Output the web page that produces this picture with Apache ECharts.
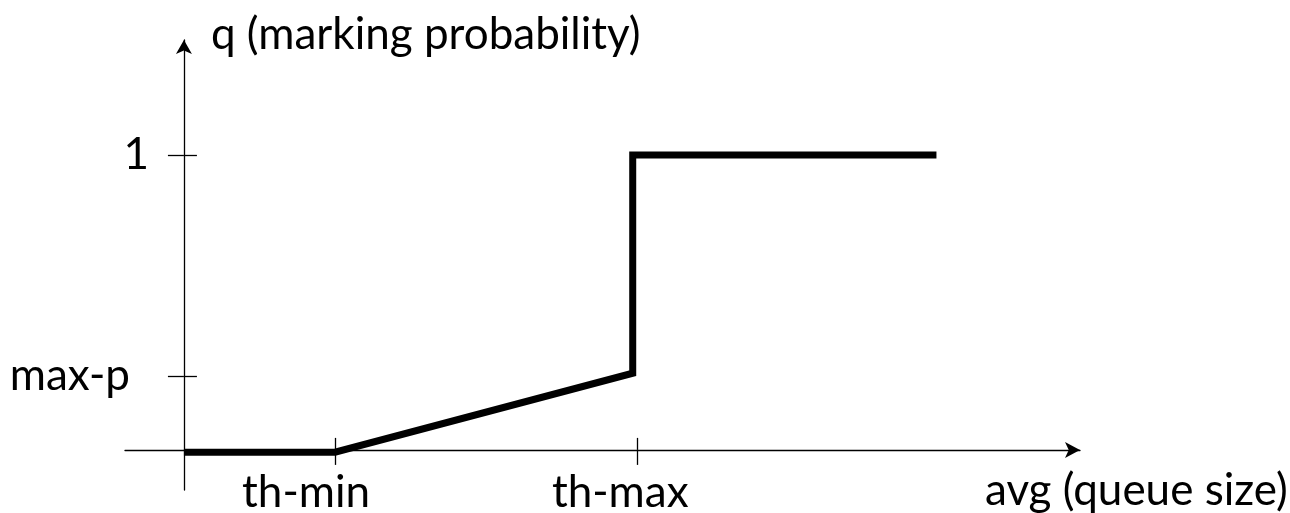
<!DOCTYPE html>
<html>
<head>
<meta charset="utf-8">
<script src="https://cdn.jsdelivr.net/npm/echarts@6/dist/echarts.min.js"></script>
<style>
  html, body { margin: 0; padding: 0; background: #ffffff; }
  #chart { width: 1290px; height: 513px; }
</style>
</head>
<body>
<div id="chart"></div>
<script>
// ---- data ----
const xTickValues = [1, 3];
const xTickLabels = ['th-min', 'th-max'];
const yTickValues = [0.25, 1];
const yTickLabels = ['max-p', '1'];
const curveX = [0, 1, 2.97, 2.97, 4.98];
const curveY = [-0.008, -0.008, 0.26, 1, 1];
const xName = 'avg (queue size)';
const yName = 'q (marking probability)';

const FONT = 'Lato';
const FS = 44;
const X_MIN = -0.39, X_MAX = 5.93;
const Y_MIN = -0.136, Y_MAX = 1.39;

const curve = curveX.map((x, i) => [x, curveY[i]]);
const xLabelMap = {}; xTickValues.forEach((v, i) => xLabelMap[v] = xTickLabels[i]);
const yLabelMap = {}; yTickValues.forEach((v, i) => yLabelMap[v] = yTickLabels[i]);

const chart = echarts.init(document.getElementById('chart'), null, { renderer: 'canvas' });
const axisLineStyle = { color: '#000', width: 1.3 };

chart.setOption({
  animation: false,
  backgroundColor: '#ffffff',
  grid: { left: 125, right: 210, top: 40, bottom: 23, containLabel: false, outerBoundsMode: 'none' },
  xAxis: [
    {
      type: 'value', min: X_MIN, max: X_MAX, position: 'bottom',
      name: xName, nameLocation: 'end', nameGap: -95,
      nameTextStyle: { fontFamily: FONT, fontSize: FS, color: '#000', align: 'left', verticalAlign: 'top', padding: [19, 0, 0, 0] },
      axisLine: { show: true, onZero: true, onZeroAxisIndex: 0, symbol: ['none', 'arrow'], symbolSize: [12, 15], lineStyle: axisLineStyle },
      axisTick: { show: true, length: 15, customValues: xTickValues, lineStyle: axisLineStyle },
      axisLabel: {
        show: true, customValues: xTickValues, margin: -19, color: '#000', fontFamily: FONT, fontSize: FS,
        formatter: v => {
          const t = xLabelMap[v] || '';
          return v === 1 ? '{a|' + t + '}' : '{b|' + t + '}';
        },
        rich: {
          a: { fontFamily: FONT, fontSize: FS, color: '#000', padding: [0, 58, 0, 0] },
          b: { fontFamily: FONT, fontSize: FS, color: '#000', padding: [0, 34, 0, 0] }
        }
      },
      splitLine: { show: false }
    },
    {
      type: 'value', min: X_MIN, max: X_MAX, position: 'top',
      axisLine: { show: false, onZero: true, onZeroAxisIndex: 0 },
      axisTick: { show: true, length: 12, customValues: xTickValues, lineStyle: axisLineStyle },
      axisLabel: { show: false },
      splitLine: { show: false }
    }
  ],
  yAxis: [
    {
      type: 'value', min: Y_MIN, max: Y_MAX, position: 'left',
      name: yName, nameLocation: 'end', nameGap: 5,
      nameTextStyle: { fontFamily: FONT, fontSize: FS, color: '#000', align: 'left', verticalAlign: 'middle', padding: [0, 0, 0, 27] },
      axisLine: { show: true, onZero: true, onZeroAxisIndex: 0, symbol: ['none', 'arrow'], symbolSize: [12, 14], lineStyle: axisLineStyle },
      axisTick: { show: true, length: 16, customValues: yTickValues, lineStyle: axisLineStyle },
      axisLabel: {
        show: true, customValues: yTickValues, margin: -24, color: '#000', fontFamily: FONT, fontSize: FS,
        formatter: v => {
          const t = yLabelMap[v] || '';
          return v === 1 ? '{a|' + t + '}' : '{b|' + t + '}';
        },
        rich: {
          a: { fontFamily: FONT, fontSize: FS, color: '#000' },
          b: { fontFamily: FONT, fontSize: FS, color: '#000', padding: [0, 19, 0, 0] }
        }
      },
      splitLine: { show: false }
    },
    {
      type: 'value', min: Y_MIN, max: Y_MAX, position: 'right',
      axisLine: { show: false, onZero: true, onZeroAxisIndex: 0 },
      axisTick: { show: true, length: 13, customValues: yTickValues, lineStyle: axisLineStyle },
      axisLabel: { show: false },
      splitLine: { show: false }
    }
  ],
  series: [
    {
      type: 'line',
      xAxisIndex: 0, yAxisIndex: 0,
      data: curve,
      showSymbol: false, symbol: 'none',
      clip: false,
      lineStyle: { color: '#000', width: 7, join: 'miter', cap: 'butt' },
      silent: true
    }
  ]
});
</script>
</body>
</html>
